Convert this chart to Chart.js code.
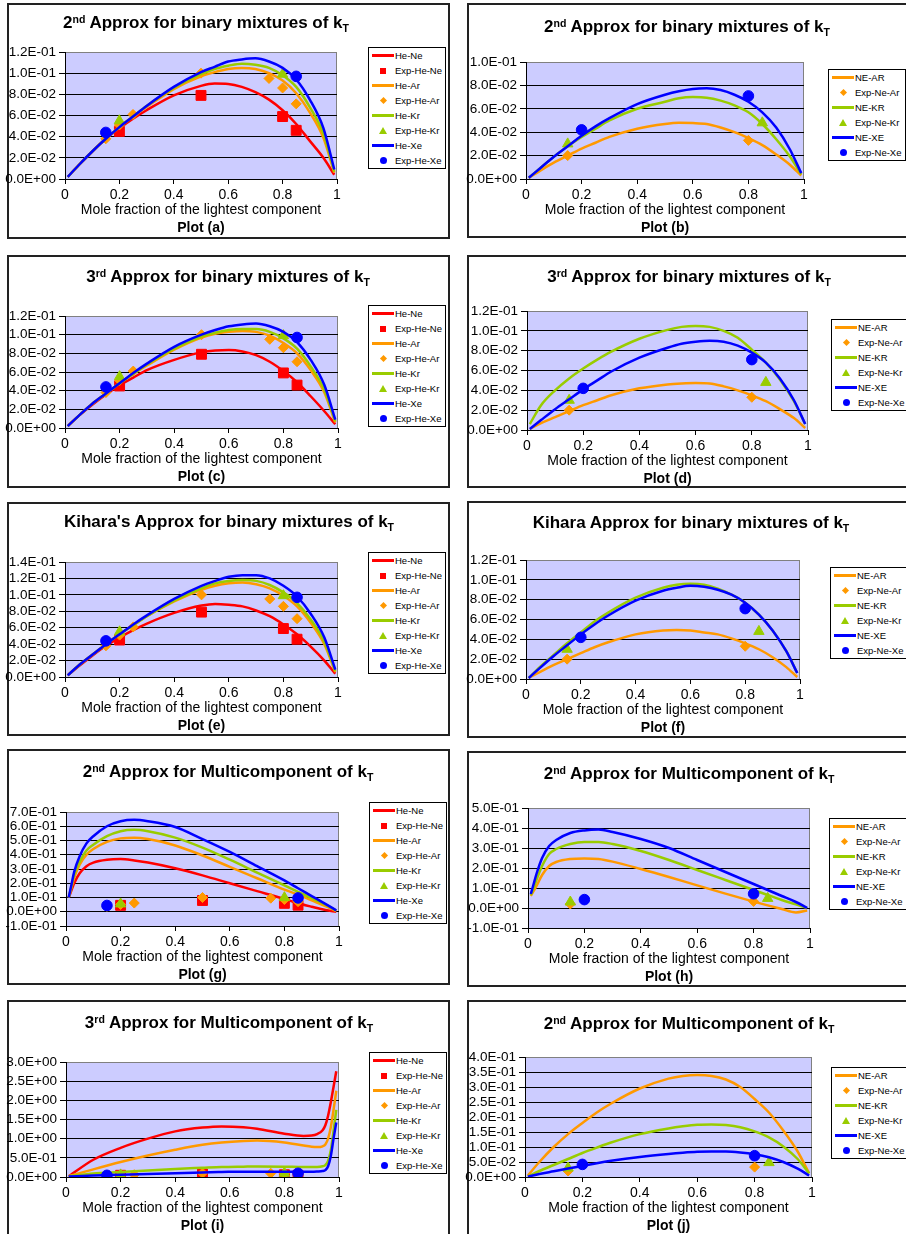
<!DOCTYPE html>
<html>
<head>
<meta charset="utf-8">
<script src="https://cdn.jsdelivr.net/npm/chart.js@4.4.1/dist/chart.umd.min.js"></script>
<style>
  body { margin:0; background:#fff; width:906px; height:1234px; overflow:hidden; position:relative;
         font-family:"Liberation Sans", Arial, sans-serif; color:#000 }
  .box { position:absolute; border:2px solid #222; box-sizing:border-box; background:#fff }
  canvas { position:absolute }
  .ttl { position:absolute; font-weight:bold; font-size:17px; line-height:20px; white-space:nowrap; transform:translate(-50%,-50%) }
  .ttl sup { font-size:62%; position:relative; top:-0.5em; vertical-align:baseline }
  .ttl sub { font-size:62%; position:relative; top:0.35em; vertical-align:baseline }
  .plab { position:absolute; font-weight:bold; font-size:14px; line-height:16px; white-space:nowrap; transform:translate(-50%,-50%) }
  .leg { position:absolute; border:1px solid #000; background:#fff; width:76px }
  .row { height:15px; position:relative; font-size:9.5px; line-height:15px; white-space:nowrap }
  .row .txt { position:absolute; left:26px; top:0 }
  .sym { position:absolute; top:50% }
</style>
</head>
<body>
<script>
// ---------------------------------------------
// x positions of the computed curves
// ---------------------------------------------
const xBin   = [0.01,0.05,0.1,0.15,0.2,0.25,0.3,0.4,0.5,0.55,0.6,0.65,0.7,0.75,0.8,0.85,0.9,0.95,0.99]
const xMulti = [0.01,0.02,0.03,0.05,0.075,0.1,0.15,0.2,0.25,0.3,0.4,0.5,0.6,0.7,0.8,0.85,0.9,0.95,0.99]
const xThird = [0.01,0.1,0.2,0.3,0.4,0.5,0.57,0.65,0.7,0.8,0.87,0.9,0.92,0.94,0.95,0.96,0.97,0.98,0.99]

// plot (a) - 2nd approx, He binaries
const aHeNe = [0.002,0.013,0.026,0.038,0.048,0.057,0.065,0.079,0.088,0.0902,0.0898,0.087,0.082,0.075,0.065,0.052,0.036,0.02,0.004]
const aHeAr = [0.002,0.013,0.026,0.038,0.049,0.059,0.068,0.085,0.097,0.101,0.104,0.105,0.104,0.1,0.093,0.081,0.063,0.039,0.006]
const aHeKr = [0.002,0.013,0.026,0.038,0.049,0.059,0.069,0.086,0.099,0.104,0.107,0.109,0.108,0.105,0.098,0.087,0.068,0.043,0.007]
const aHeXe = [0.002,0.013,0.026,0.038,0.049,0.059,0.069,0.087,0.101,0.106,0.111,0.113,0.114,0.111,0.105,0.094,0.075,0.048,0.009]
// plot (b) - 2nd approx, Ne binaries
const bNeAr = [0.001,0.007,0.014,0.02,0.026,0.031,0.036,0.043,0.047,0.048,0.0478,0.047,0.044,0.04,0.035,0.029,0.021,0.012,0.003]
const bNeKr = [0.001,0.009,0.019,0.028,0.036,0.043,0.05,0.06,0.066,0.069,0.07,0.0695,0.067,0.063,0.057,0.047,0.034,0.019,0.004]
const bNeXe = [0.001,0.009,0.019,0.028,0.037,0.045,0.052,0.064,0.072,0.075,0.077,0.0775,0.076,0.072,0.066,0.057,0.044,0.025,0.005]
// plot (c) - 3rd approx, He binaries
const cHeNe = [0.002,0.013,0.025,0.036,0.046,0.054,0.062,0.073,0.081,0.083,0.0835,0.082,0.078,0.071,0.061,0.049,0.034,0.018,0.004]
const cHeAr = [0.002,0.013,0.026,0.037,0.048,0.058,0.067,0.084,0.097,0.101,0.103,0.104,0.103,0.099,0.091,0.08,0.062,0.038,0.006]
const cHeKr = [0.002,0.013,0.026,0.037,0.048,0.058,0.068,0.085,0.098,0.102,0.105,0.106,0.106,0.103,0.096,0.085,0.066,0.041,0.007]
const cHeXe = [0.002,0.013,0.026,0.037,0.048,0.059,0.069,0.087,0.1,0.105,0.109,0.111,0.112,0.109,0.103,0.092,0.073,0.046,0.009]
// plot (d) - 3rd approx, Ne binaries
const dNeAr = [0.001,0.007,0.013,0.019,0.025,0.03,0.035,0.042,0.046,0.047,0.0475,0.047,0.044,0.04,0.035,0.029,0.021,0.012,0.002]
const dNeKr = [0.006,0.025,0.04,0.052,0.062,0.071,0.079,0.092,0.101,0.104,0.105,0.104,0.1,0.093,0.081,0.068,0.051,0.029,0.006]
const dNeXe = [0.001,0.01,0.021,0.031,0.041,0.05,0.059,0.073,0.083,0.087,0.089,0.09,0.089,0.085,0.078,0.068,0.052,0.03,0.006]
// plot (e) - Kihara, He binaries
const eHeNe = [0.002,0.013,0.026,0.038,0.048,0.057,0.065,0.078,0.087,0.089,0.088,0.086,0.081,0.074,0.064,0.052,0.037,0.02,0.004]
const eHeAr = [0.002,0.014,0.027,0.04,0.052,0.063,0.074,0.092,0.106,0.111,0.114,0.115,0.113,0.108,0.099,0.086,0.066,0.04,0.006]
const eHeKr = [0.002,0.014,0.027,0.04,0.052,0.063,0.074,0.093,0.108,0.114,0.117,0.118,0.117,0.112,0.103,0.09,0.07,0.043,0.007]
const eHeXe = [0.002,0.014,0.027,0.04,0.052,0.064,0.075,0.095,0.111,0.117,0.122,0.124,0.124,0.12,0.111,0.098,0.077,0.048,0.009]
// plot (f) - Kihara, Ne binaries
const fNeAr = [0.001,0.007,0.014,0.02,0.026,0.032,0.037,0.045,0.049,0.0495,0.049,0.047,0.045,0.041,0.036,0.03,0.022,0.012,0.002]
const fNeKr = [0.001,0.012,0.024,0.036,0.047,0.058,0.067,0.082,0.092,0.095,0.096,0.095,0.091,0.085,0.077,0.065,0.049,0.028,0.006]
const fNeXe = [0.001,0.011,0.023,0.034,0.045,0.055,0.064,0.079,0.089,0.092,0.094,0.093,0.09,0.085,0.077,0.065,0.049,0.028,0.006]
// plot (g) - 2nd approx multicomponent, He (xMulti)
const gHeNe = [0.1,0.15,0.2,0.27,0.32,0.345,0.365,0.37,0.36,0.345,0.305,0.255,0.2,0.145,0.09,0.06,0.035,0.012,0.0]
const gHeAr = [0.1,0.17,0.24,0.33,0.4,0.44,0.49,0.515,0.52,0.51,0.465,0.395,0.315,0.235,0.155,0.12,0.08,0.04,0.005]
const gHeKr = [0.1,0.18,0.26,0.35,0.43,0.47,0.53,0.565,0.575,0.565,0.52,0.45,0.365,0.275,0.185,0.14,0.095,0.05,0.008]
const gHeXe = [0.1,0.19,0.28,0.39,0.48,0.53,0.6,0.635,0.645,0.635,0.595,0.51,0.42,0.32,0.22,0.165,0.11,0.055,0.01]
// plot (h) - 2nd approx multicomponent, Ne (xMulti)
const hNeAr = [0.06,0.085,0.11,0.165,0.21,0.23,0.245,0.248,0.245,0.232,0.195,0.155,0.113,0.072,0.032,0.013,-0.005,-0.022,-0.012]
const hNeKr = [0.065,0.1,0.14,0.21,0.27,0.295,0.32,0.33,0.33,0.32,0.285,0.24,0.19,0.14,0.09,0.065,0.04,0.018,0.0]
const hNeXe = [0.07,0.12,0.17,0.25,0.31,0.34,0.375,0.388,0.392,0.38,0.345,0.3,0.24,0.18,0.12,0.09,0.06,0.03,0.0]
// plot (i) - 3rd approx multicomponent, He (xThird)
const iHeNe = [0.02,0.45,0.76,1.0,1.19,1.29,1.32,1.3,1.26,1.13,1.07,1.08,1.12,1.22,1.35,1.6,1.95,2.35,2.76]
const iHeAr = [0.02,0.2,0.39,0.56,0.71,0.84,0.9,0.94,0.95,0.9,0.82,0.79,0.78,0.8,0.85,1.0,1.3,1.75,2.25]
const iHeKr = [0.02,0.09,0.13,0.17,0.21,0.24,0.26,0.27,0.275,0.27,0.26,0.26,0.26,0.28,0.31,0.42,0.7,1.2,1.75]
const iHeXe = [0.01,0.04,0.06,0.08,0.1,0.12,0.13,0.14,0.14,0.14,0.14,0.14,0.145,0.155,0.18,0.28,0.55,1.0,1.42]
// plot (j) - multicomponent, Ne (xBin)
const jNeAr = [0.005,0.05,0.1,0.143,0.18,0.215,0.245,0.295,0.328,0.337,0.34,0.337,0.325,0.3,0.26,0.215,0.155,0.085,0.012]
const jNeKr = [0.002,0.02,0.04,0.06,0.08,0.098,0.115,0.143,0.162,0.169,0.174,0.175,0.173,0.166,0.152,0.132,0.102,0.06,0.012]
const jNeXe = [0.001,0.01,0.019,0.028,0.037,0.046,0.054,0.067,0.077,0.081,0.084,0.085,0.085,0.082,0.076,0.066,0.05,0.028,0.005]

// ---------------------------------------------
// experimental points (same in every plot)
// ---------------------------------------------
const expHeNeX = [0.2,0.5,0.8,0.85],                 expHeNeY = [0.045,0.079,0.059,0.046]
const expHeArX = [0.15,0.2,0.25,0.5,0.75,0.8,0.85],  expHeArY = [0.038,0.051,0.061,0.1,0.095,0.086,0.071]
const expHeKrX = [0.2,0.8],                          expHeKrY = [0.055,0.099]
const expHeXeX = [0.15,0.85],                        expHeXeY = [0.044,0.097]
const expNeArX = [0.15,0.8],                         expNeArY = [0.02,0.033]
const expNeKrX = [0.15,0.85],                        expNeKrY = [0.03,0.048]
const expNeXeX = [0.2,0.8],                          expNeXeY = [0.042,0.071]

const xTicks = [0, 0.2, 0.4, 0.6, 0.8, 1]

// ---------------------------------------------
// series groups
// ---------------------------------------------
const RED = '#ff0000', ORANGE = '#ff9900', GREEN = '#99cc00', BLUE = '#0000ff'
const HE = {
  names:    ['He-Ne','He-Ar','He-Kr','He-Xe'],
  expNames: ['Exp-He-Ne','Exp-He-Ar','Exp-He-Kr','Exp-He-Xe'],
  colors:   [RED, ORANGE, GREEN, BLUE],
  shapes:   ['rect','rectRot','triangle','circle'],
  expX:     [expHeNeX, expHeArX, expHeKrX, expHeXeX],
  expY:     [expHeNeY, expHeArY, expHeKrY, expHeXeY]
}
const NE = {
  names:    ['NE-AR','NE-KR','NE-XE'],
  expNames: ['Exp-Ne-Ar','Exp-Ne-Kr','Exp-Ne-Xe'],
  colors:   [ORANGE, GREEN, BLUE],
  shapes:   ['rectRot','triangle','circle'],
  expX:     [expNeArX, expNeKrX, expNeXeX],
  expY:     [expNeArY, expNeKrY, expNeXeY]
}
const RAD = { rect:7, rectRot:5, triangle:6, circle:5.3 }

const T2B = '2<sup>nd</sup> Approx for binary mixtures of k<sub>T</sub>'
const T3B = '3<sup>rd</sup> Approx for binary mixtures of k<sub>T</sub>'
const T2M = '2<sup>nd</sup> Approx for Multicomponent of k<sub>T</sub>'
const T3M = '3<sup>rd</sup> Approx for Multicomponent of k<sub>T</sub>'

// layout: box [x,y,w,h], plot [left,right,top,bottom], legend [x,y], title centre [x,y]
const panels = [
  { tag:'a', title:T2B, g:HE, x:xBin,   curves:[aHeNe,aHeAr,aHeKr,aHeXe], y:[0,0.12,0.02],  col:0,   box:[7,3,443,236],    plot:[65,337,52,179],    leg:[368,47],   t:[206,23] },
  { tag:'b', title:T2B, g:NE, x:xBin,   curves:[bNeAr,bNeKr,bNeXe],       y:[0,0.1,0.02],   col:460, box:[467,3,445,235],  plot:[526,804,62,179],   leg:[828,69],   t:[687,27] },
  { tag:'c', title:T3B, g:HE, x:xBin,   curves:[cHeNe,cHeAr,cHeKr,cHeXe], y:[0,0.12,0.02],  col:0,   box:[7,255,443,233],  plot:[65,338,316,428],   leg:[368,305],  t:[228,277] },
  { tag:'d', title:T3B, g:NE, x:xBin,   curves:[dNeAr,dNeKr,dNeXe],       y:[0,0.12,0.02],  col:460, box:[467,255,445,233],plot:[527,808,311,430],  leg:[831,319],  t:[689,277] },
  { tag:'e', title:"Kihara's Approx for binary mixtures of k<sub>T</sub>", g:HE, x:xBin, curves:[eHeNe,eHeAr,eHeKr,eHeXe], y:[0,0.14,0.02], col:0, box:[7,502,443,234], plot:[65,338,562,677], leg:[368,552], t:[229,522] },
  { tag:'f', title:'Kihara Approx for binary mixtures of k<sub>T</sub>',   g:NE, x:xBin, curves:[fNeAr,fNeKr,fNeXe], y:[0,0.12,0.02], col:460, box:[467,501,445,237], plot:[526,800,560,679], leg:[830,567], t:[691,523] },
  { tag:'g', title:T2M, g:HE, x:xMulti, curves:[gHeNe,gHeAr,gHeKr,gHeXe], y:[-0.1,0.7,0.1], col:0,   box:[7,749,443,236],  plot:[66,339,812,926],   leg:[369,802],  t:[228,772] },
  { tag:'h', title:T2M, g:NE, x:xMulti, curves:[hNeAr,hNeKr,hNeXe],       y:[-0.1,0.5,0.1], col:460, box:[467,751,445,236],plot:[528,810,808,928],  leg:[829,818],  t:[689,774] },
  { tag:'i', title:T3M, g:HE, x:xThird, curves:[iHeNe,iHeAr,iHeKr,iHeXe], y:[0,3,0.5],      col:0,   box:[7,1000,443,240], plot:[66,339,1062,1177], leg:[369,1052], t:[229,1023] },
  { tag:'j', title:T2M, g:NE, x:xBin,   curves:[jNeAr,jNeKr,jNeXe],       y:[0,0.4,0.05],   col:460, box:[467,1000,445,240],plot:[525,812,1057,1177],leg:[831,1067], t:[689,1024] }
]

const Y_AXIS_W = 60, X_AXIS_H = 40

Chart.defaults.font.family = '"Liberation Sans", Arial, sans-serif'
Chart.defaults.color = '#000'

// Excel style tick label, e.g. 1.2E-01
function sci(v) {
  v = +(+v).toPrecision(8)
  if (Math.abs(v) < 1e-12) return '0.0E+00'
  let e = Math.floor(Math.log10(Math.abs(v)))
  let m = v / Math.pow(10, e)
  if (Math.abs(+m.toFixed(1)) >= 10) { e++; m = v / Math.pow(10, e) }
  return m.toFixed(1) + 'E' + (e < 0 ? '-' : '+') + String(Math.abs(e)).padStart(2, '0')
}

// lavender plot area with grey top/right edges
const plotBg = {
  id: 'plotBg',
  beforeDraw(chart) {
    const { ctx, chartArea: a } = chart
    ctx.save()
    ctx.fillStyle = '#ccccff'
    ctx.fillRect(a.left, a.top, a.width, a.height)
    ctx.strokeStyle = '#808080'
    ctx.lineWidth = 1
    ctx.beginPath()
    ctx.moveTo(a.left, a.top + 0.5)
    ctx.lineTo(a.right - 0.5, a.top + 0.5)
    ctx.lineTo(a.right - 0.5, a.bottom)
    ctx.stroke()
    ctx.restore()
  }
}

function el(tag, cls, css, html) {
  const e = document.createElement(tag)
  if (cls) e.className = cls
  Object.assign(e.style, css || {})
  if (html != null) e.innerHTML = html
  document.body.appendChild(e)
  return e
}

function makeDatasets(p) {
  const g = p.g, ds = []
  g.names.forEach((n, i) => {
    ds.push({
      label: n,
      data: p.x.map((x, k) => ({ x, y: p.curves[i][k] })),
      showLine: true, pointRadius: 0, borderColor: g.colors[i], borderWidth: 2.5,
      cubicInterpolationMode: 'monotone', order: 40 - 2 * i
    })
    ds.push({
      label: g.expNames[i],
      data: g.expX[i].map((x, k) => ({ x, y: g.expY[i][k] })),
      showLine: false, pointStyle: g.shapes[i], pointRadius: RAD[g.shapes[i]],
      backgroundColor: g.colors[i], borderColor: g.colors[i], borderWidth: 1, order: 39 - 2 * i
    })
  })
  return ds
}

function legendSymbol(row, kind, color) {
  const s = document.createElement('span')
  s.className = 'sym'
  const st = s.style
  if (kind === 'line') {
    Object.assign(st, { left:'3px', width:'22px', height:'3px', marginTop:'-1.5px', background:color })
  } else if (kind === 'rect') {
    Object.assign(st, { left:'11px', width:'6px', height:'6px', marginTop:'-3px', background:color })
  } else if (kind === 'rectRot') {
    Object.assign(st, { left:'11.5px', width:'5px', height:'5px', marginTop:'-2.5px', background:color, transform:'rotate(45deg)' })
  } else if (kind === 'triangle') {
    Object.assign(st, { left:'10px', width:'0', height:'0', marginTop:'-4px',
      borderLeft:'4px solid transparent', borderRight:'4px solid transparent', borderBottom:'7px solid ' + color })
  } else {
    Object.assign(st, { left:'10.5px', width:'7px', height:'7px', marginTop:'-3.5px', background:color, borderRadius:'50%' })
  }
  row.appendChild(s)
}

function buildLegend(p) {
  const g = p.g
  const box = el('div', 'leg', { left: p.leg[0] + 'px', top: p.leg[1] + 'px', height: (g.names.length * 30) + 'px' })
  g.names.forEach((n, i) => {
    [[n, 'line'], [g.expNames[i], g.shapes[i]]].forEach(([txt, kind]) => {
      const r = document.createElement('div')
      r.className = 'row'
      legendSymbol(r, kind, g.colors[i])
      const t = document.createElement('span')
      t.className = 'txt'
      t.textContent = txt
      r.appendChild(t)
      box.appendChild(r)
    })
  })
}

panels.forEach(p => {
  const [bx, by, bw, bh] = p.box
  const [pl, pr, pt, pb] = p.plot
  el('div', 'box', { left: bx + 'px', top: by + 'px', width: bw + 'px', height: bh + 'px' })

  const cw = p.col === 0 ? 460 : 446
  const cv = el('canvas', '', { left: p.col + 'px', top: by + 'px' })
  cv.width = cw
  cv.height = bh

  const [yMin, yMax, yStep] = p.y
  new Chart(cv, {
    type: 'scatter',
    data: { datasets: makeDatasets(p) },
    plugins: [plotBg],
    options: {
      responsive: false, animation: false, devicePixelRatio: 1, events: [],
      layout: { padding: {
        left: pl - p.col - Y_AXIS_W,
        right: cw - (pr - p.col),
        top: pt - by,
        bottom: bh - (pb - by) - X_AXIS_H
      } },
      plugins: { legend: { display: false }, tooltip: { enabled: false } },
      scales: {
        x: {
          type: 'linear', min: 0, max: 1,
          afterFit: s => { s.height = X_AXIS_H },
          afterBuildTicks: s => { s.ticks = xTicks.map(v => ({ value: v })) },
          ticks: { callback: v => String(Math.round(v * 10) / 10), font: { size: 14 }, padding: 3,
                   maxRotation: 0, autoSkip: false },
          grid: { drawOnChartArea: false, drawTicks: true, tickLength: 5, tickColor: '#000' },
          border: { color: '#000', width: 1 },
          title: { display: true, text: 'Mole fraction of the lightest component', font: { size: 14 }, padding: 0 }
        },
        y: {
          type: 'linear', min: yMin, max: yMax,
          afterFit: s => { s.width = Y_AXIS_W },
          ticks: { stepSize: yStep, callback: v => sci(v), font: { size: 13.5 }, padding: 3, autoSkip: false },
          grid: {
            color: c => (c.tick && c.tick.value > yMax - yStep / 100) ? '#808080' : '#000',
            tickColor: '#000', tickLength: 6, lineWidth: 1
          },
          border: { color: '#000', width: 1 }
        }
      }
    }
  })

  el('div', 'ttl', { left: p.t[0] + 'px', top: p.t[1] + 'px' }, p.title)
  el('div', 'plab', { left: ((pl + pr) / 2) + 'px', top: (pb + 48) + 'px' }, 'Plot (' + p.tag + ')')
  buildLegend(p)
})
</script>
</body>
</html>
